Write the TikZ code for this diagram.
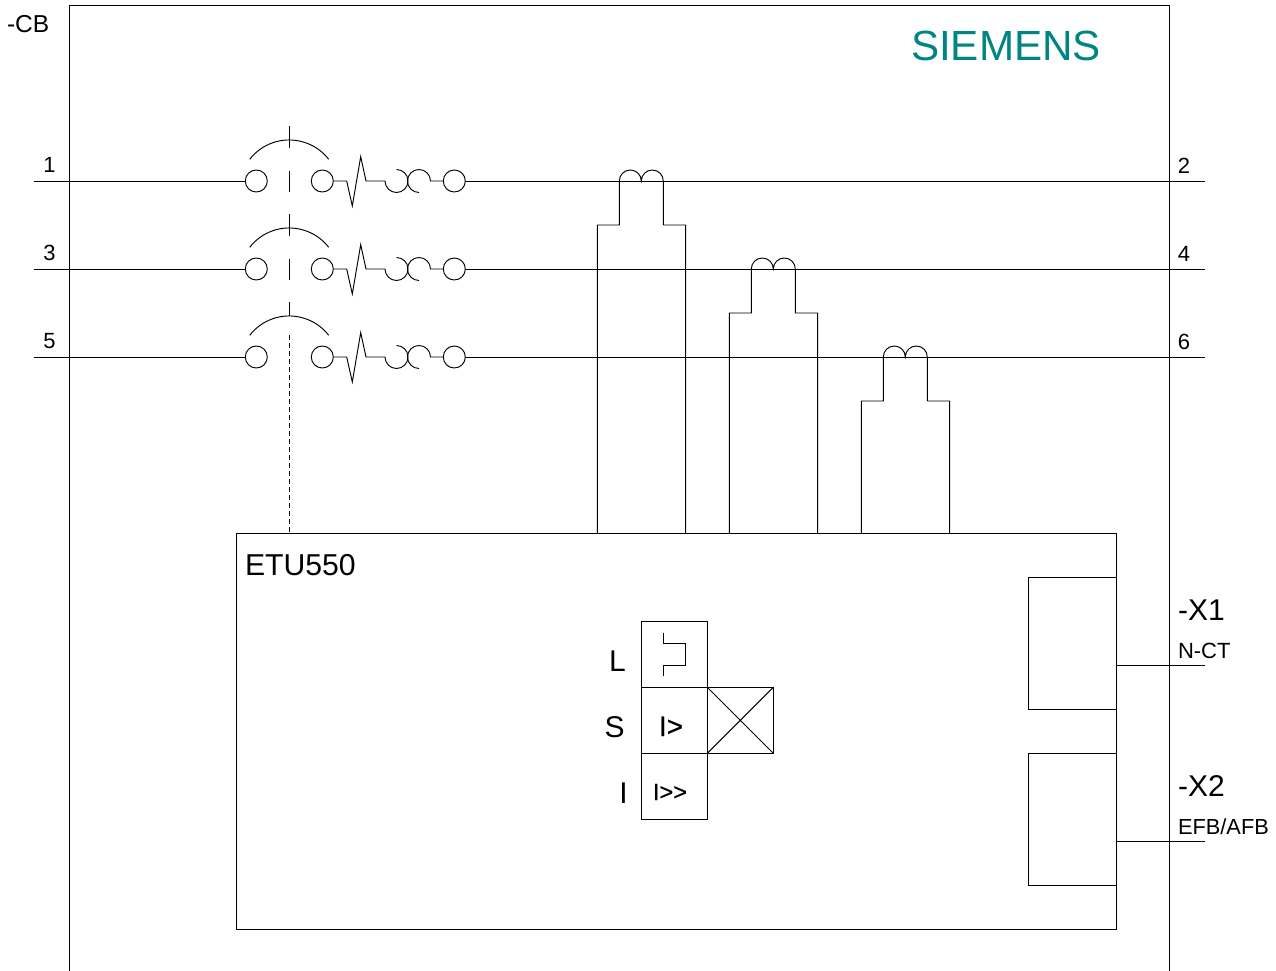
\documentclass[tikz,border=0pt]{standalone}
\usepackage{fontspec}
\setmainfont{Liberation Sans}
\definecolor{siemensteal}{RGB}{0,133,133}
\tikzset{
  wire/.style={draw=black,line width=0.95pt},
  term/.style={circle,draw=black,line width=0.95pt,minimum size=22pt,inner sep=0pt,outer sep=0pt},
  boxn/.style={rectangle,draw=black,line width=0.95pt,inner sep=0pt,outer sep=0pt,anchor=north west},
  lbl/.style={inner sep=0pt,outer sep=0pt,anchor=base west,text=black},
  pt/.style={font=\fontsize{#1}{#1}\selectfont}
}
\begin{document}
\begin{tikzpicture}[x=1pt,y=-1pt,line join=miter]
\useasboundingbox (0,0) rectangle (1276,971);
% frame
\coordinate (fbl) at (69,971);
\coordinate (ftl) at (69,5.6);
\coordinate (ftr) at (1169,5.6);
\coordinate (fbr) at (1169,971);
\draw[wire] (fbl) -- (ftl) -- (ftr) -- (fbr);
\node[lbl,pt=42.2,text=siemensteal] (siemens) at (911,61) {SIEMENS};
\node[lbl,pt=24.5] (cb) at (7,32.5) {-CB};
% trip unit and its boxes
\node[boxn,minimum width=880.4pt,minimum height=396.5pt] (etu) at (236,533) {};
\node[lbl,pt=30.2] (etulbl) at (245,575) {ETU550};
\node[boxn,minimum width=88.4pt,minimum height=132.5pt] (x1box) at (1028,577) {};
\node[boxn,minimum width=88.4pt,minimum height=132.5pt] (x2box) at (1028,753) {};
\coordinate (x1end) at (1205,665.6);
\coordinate (x2end) at (1205,841.6);
\coordinate (x1start) at (1116.4,665.6);
\coordinate (x2start) at (1116.4,841.6);
\draw[wire] (x1start) -- (x1end);
\draw[wire] (x2start) -- (x2end);
\node[lbl,pt=30] (x1lbl) at (1178,620) {-X1};
\node[lbl,pt=22] (x1sub) at (1178,658) {N-CT};
\node[lbl,pt=30] (x2lbl) at (1178,796) {-X2};
\node[lbl,pt=21.8] (x2sub) at (1178,834) {EFB/AFB};
% protection functions
\node[boxn,minimum width=66.2pt,minimum height=66.2pt] (fl) at (641,621) {};
\node[boxn,minimum width=66.2pt,minimum height=66.2pt] (fs) at (641,687.2) {};
\node[boxn,minimum width=66.2pt,minimum height=66.2pt] (fi) at (641,753.2) {};
\node[boxn,minimum width=66.2pt,minimum height=66.2pt] (fx) at (707.2,687.2) {};
\draw[wire] (fx.north west) -- (fx.south east) (fx.south west) -- (fx.north east);
\draw[wire] (663.3,632.7) -- (663.3,643.3) -- (685.7,643.3) -- (685.7,665) -- (663.3,665) -- (663.3,676);
\node[lbl,pt=30,anchor=base] (tl) at (617.5,671) {L};
\node[lbl,pt=30,anchor=base] (ts) at (614.5,737) {S};
\node[lbl,pt=30,anchor=base] (ti) at (623.5,803) {I};
\node[lbl,pt=28,anchor=base] (is) at (671,736) {\addfontfeatures{FakeBold=0.6}I>};
\node[lbl,pt=23.5,anchor=base] (ii) at (670,800) {\addfontfeatures{FakeBold=0.5}I>{}>};
% rows
\foreach \n/\y/\l/\r in {1/181/1/2,2/269/3/4,3/357/5/6}{
  \coordinate (in\n) at (34,\y);
  \coordinate (out\n) at (1205,\y);
  \node[term] (a\n) at (256.3,\y) {};
  \node[term] (b\n) at (322.3,\y) {};
  \node[term] (c\n) at (454.3,\y) {};
  \draw[wire] (in\n) -- (a\n.west);
  \draw[wire] (c\n.east) -- (out\n);
  \draw[wire] (b\n.east) -- (346.7,\y) -- (352.3,\y+25) -- (360.7,\y-24.3) -- (366,\y) -- (385,\y)
     arc[start angle=180,end angle=450,radius=11.5pt];
  \draw[wire] (419,\y+11.5) arc[start angle=-90,end angle=-360,radius=11.5pt] -- (443,\y);
  % blade
  \draw[wire] (249.7,\y-21.7) arc[start angle=142.2,end angle=37.8,radius=50pt];
  \node[lbl,pt=22,anchor=base] (l\n) at (49.5,\y-8.5) {\l};
  \node[lbl,pt=22,anchor=base] (r\n) at (1184,\y-7.5) {\r};
}
% mechanical link
\draw[wire] (289.3,126) -- (289.3,148);
\draw[wire] (289.3,171) -- (289.3,192);
\draw[wire] (289.3,214) -- (289.3,236);
\draw[wire] (289.3,259) -- (289.3,280);
\draw[wire] (289.3,302) -- (289.3,316);
\coordinate (linkend) at (289.3,533);
\coordinate (linkstart) at (289.3,335);
\draw[wire,dash pattern=on 5pt off 3pt] (linkstart) -- (linkend);
% current transformers
\foreach \n/\dx/\dy in {1/0/0,2/132/88,3/264/176}{
  \coordinate (ctbot\n) at (597.3+\dx,533);
  \coordinate (ctbor\n) at (685.7+\dx,533);
  \draw[wire] (ctbot\n) -- (597.3+\dx,225+\dy) -- (619.3+\dx,225+\dy) -- (619.3+\dx,181+\dy)
     arc[start angle=180,end angle=0,radius=11pt]
     arc[start angle=180,end angle=0,radius=11pt]
     -- (663.3+\dx,225+\dy) -- (685.7+\dx,225+\dy) -- (ctbor\n);
}
\end{tikzpicture}
\end{document}
